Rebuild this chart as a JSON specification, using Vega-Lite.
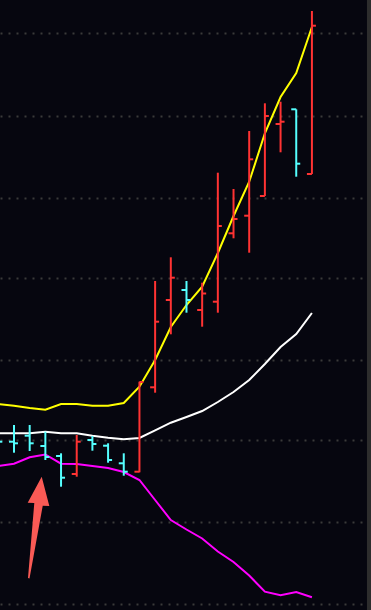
{
  "$schema": "https://vega.github.io/schema/vega-lite/v6.json",
  "width": 371,
  "height": 610,
  "padding": 0,
  "autosize": {"type": "none"},
  "background": "#06060f",
  "config": {"view": {"stroke": null, "fill": "#06060f"}},
  "datasets": {
    "bars": [
      {"i": -1, "dir": "down", "high": 180, "low": 158, "open": 173, "close": 168.3, "upper": 206, "mid": 176.7, "lower": 144},
      {"i": 0, "dir": "down", "high": 185, "low": 157.3, "open": 168.3, "close": 166.7, "upper": 204.3, "mid": 176.7, "lower": 146.3},
      {"i": 1, "dir": "down", "high": 185, "low": 159, "open": 174.3, "close": 166.7, "upper": 202, "mid": 176.7, "lower": 152.7},
      {"i": 2, "dir": "down", "high": 178.3, "low": 150, "open": 164, "close": 153, "upper": 200.3, "mid": 178.3, "lower": 155.5},
      {"i": 3, "dir": "down", "high": 156.7, "low": 123.3, "open": 154, "close": 132.3, "upper": 206, "mid": 176.7, "lower": 146.3},
      {"i": 4, "dir": "up", "high": 175, "low": 133.3, "open": 136, "close": 168.3, "upper": 206, "mid": 176.7, "lower": 146},
      {"i": 5, "dir": "down", "high": 174, "low": 159.3, "open": 170, "close": 166, "upper": 204.3, "mid": 174.3, "lower": 144},
      {"i": 6, "dir": "down", "high": 166.7, "low": 147.3, "open": 164.3, "close": 150, "upper": 204.3, "mid": 172.3, "lower": 142},
      {"i": 7, "dir": "down", "high": 156.7, "low": 134.3, "open": 146.7, "close": 138.3, "upper": 207, "mid": 170.7, "lower": 138},
      {"i": 8, "dir": "up", "high": 228.3, "low": 137.7, "open": 138.3, "close": 228, "upper": 223.3, "mid": 172, "lower": 130},
      {"i": 9, "dir": "up", "high": 329, "low": 217.3, "open": 222.7, "close": 288.3, "upper": 250, "mid": 179.7, "lower": 110},
      {"i": 10, "dir": "up", "high": 352.7, "low": 275.7, "open": 310, "close": 332.3, "upper": 283, "mid": 187.3, "lower": 90},
      {"i": 11, "dir": "down", "high": 329, "low": 297.3, "open": 320, "close": 310, "upper": 305, "mid": 193, "lower": 80.5},
      {"i": 12, "dir": "up", "high": 327.3, "low": 283.3, "open": 300, "close": 316.5, "upper": 323.3, "mid": 199, "lower": 71.5},
      {"i": 13, "dir": "up", "high": 437.3, "low": 297.3, "open": 308.3, "close": 384, "upper": 357, "mid": 208, "lower": 58.5},
      {"i": 14, "dir": "up", "high": 421, "low": 371.7, "open": 376.7, "close": 391, "upper": 394, "mid": 218, "lower": 48},
      {"i": 15, "dir": "up", "high": 479, "low": 357.3, "open": 394.3, "close": 450.7, "upper": 428.3, "mid": 230, "lower": 34.5},
      {"i": 16, "dir": "up", "high": 506.7, "low": 414, "open": 414, "close": 494, "upper": 476.7, "mid": 246, "lower": 18.3},
      {"i": 17, "dir": "up", "high": 508.3, "low": 457.7, "open": 486, "close": 488.3, "upper": 513, "mid": 263, "lower": 14.7},
      {"i": 18, "dir": "down", "high": 500.7, "low": 433.3, "open": 500.7, "close": 446.3, "upper": 537, "mid": 276, "lower": 18},
      {"i": 19, "dir": "up", "high": 599, "low": 436, "open": 436, "close": 584.3, "upper": 583, "mid": 297, "lower": 12.7}
    ],
    "edge": [{"x0": 22.51, "x1": 22.8, "y0": 0, "y1": 610}],
    "arrow": [{"i": 1.34, "v": 82.5}]
  },
  "encoding": {
    "x": {"type": "quantitative", "scale": {"domain": [-0.893, 22.768], "nice": false, "zero": false}, "axis": null},
    "y": {"type": "quantitative", "scale": {"domain": [0, 610], "nice": false, "zero": false}}
  },
  "layer": [
    {
      "data": {"name": "bars"},
      "mark": {"type": "rule", "opacity": 0},
      "encoding": {
        "x": {"field": "i", "type": "quantitative"},
        "y": {"field": "high", "type": "quantitative", "axis": {"title": null, "labels": false, "ticks": false, "domain": false, "grid": true, "values": [6, 88, 170, 250, 332, 412, 494, 576.5], "gridColor": "#3a3a3a", "gridWidth": 2, "gridDash": [2, 6], "gridOpacity": 1}}
      }
    },
    {
      "data": {"name": "bars"},
      "mark": {"type": "line", "color": "#ffff00", "strokeWidth": 2},
      "encoding": {"x": {"field": "i", "type": "quantitative"}, "y": {"field": "upper", "type": "quantitative"}}
    },
    {
      "data": {"name": "bars"},
      "mark": {"type": "line", "color": "#ffffff", "strokeWidth": 2},
      "encoding": {"x": {"field": "i", "type": "quantitative"}, "y": {"field": "mid", "type": "quantitative"}}
    },
    {
      "data": {"name": "bars"},
      "mark": {"type": "line", "color": "#ff00ff", "strokeWidth": 2},
      "encoding": {"x": {"field": "i", "type": "quantitative"}, "y": {"field": "lower", "type": "quantitative"}}
    },
    {
      "data": {"name": "bars"},
      "mark": {"type": "rule", "strokeWidth": 2},
      "encoding": {
        "x": {"field": "i", "type": "quantitative"},
        "y": {"field": "high", "type": "quantitative"},
        "y2": {"field": "low"},
        "color": {"field": "dir", "type": "nominal", "scale": {"domain": ["up", "down"], "range": ["#ff3333", "#55ffff"]}, "legend": null}
      }
    },
    {
      "data": {"name": "bars"},
      "mark": {"type": "tick", "orient": "horizontal", "size": 5, "thickness": 2, "xOffset": -2.5, "opacity": 1},
      "encoding": {
        "x": {"field": "i", "type": "quantitative"},
        "y": {"field": "open", "type": "quantitative"},
        "color": {"field": "dir", "type": "nominal", "scale": {"domain": ["up", "down"], "range": ["#ff3333", "#55ffff"]}, "legend": null}
      }
    },
    {
      "data": {"name": "bars"},
      "mark": {"type": "tick", "orient": "horizontal", "size": 4, "thickness": 2, "xOffset": 2, "opacity": 1},
      "encoding": {
        "x": {"field": "i", "type": "quantitative"},
        "y": {"field": "close", "type": "quantitative"},
        "color": {"field": "dir", "type": "nominal", "scale": {"domain": ["up", "down"], "range": ["#ff3333", "#55ffff"]}, "legend": null}
      }
    },
    {
      "data": {"name": "edge"},
      "mark": {"type": "rect", "color": "#2d2d2d"},
      "encoding": {
        "x": {"field": "x0", "type": "quantitative"},
        "x2": {"field": "x1"},
        "y": {"field": "y0", "type": "quantitative"},
        "y2": {"field": "y1"}
      }
    },
    {
      "data": {"name": "arrow"},
      "mark": {"type": "point", "filled": true, "color": "#fa5a55", "opacity": 1, "size": 10609, "shape": "M0.130,-0.986 L0.278,-0.417 L0.150,-0.423 L-0.107,0.990 L-0.136,0.981 L-0.014,-0.476 L-0.142,-0.482 Z"},
      "encoding": {
        "x": {"field": "i", "type": "quantitative"},
        "y": {"field": "v", "type": "quantitative"}
      }
    }
  ]
}
